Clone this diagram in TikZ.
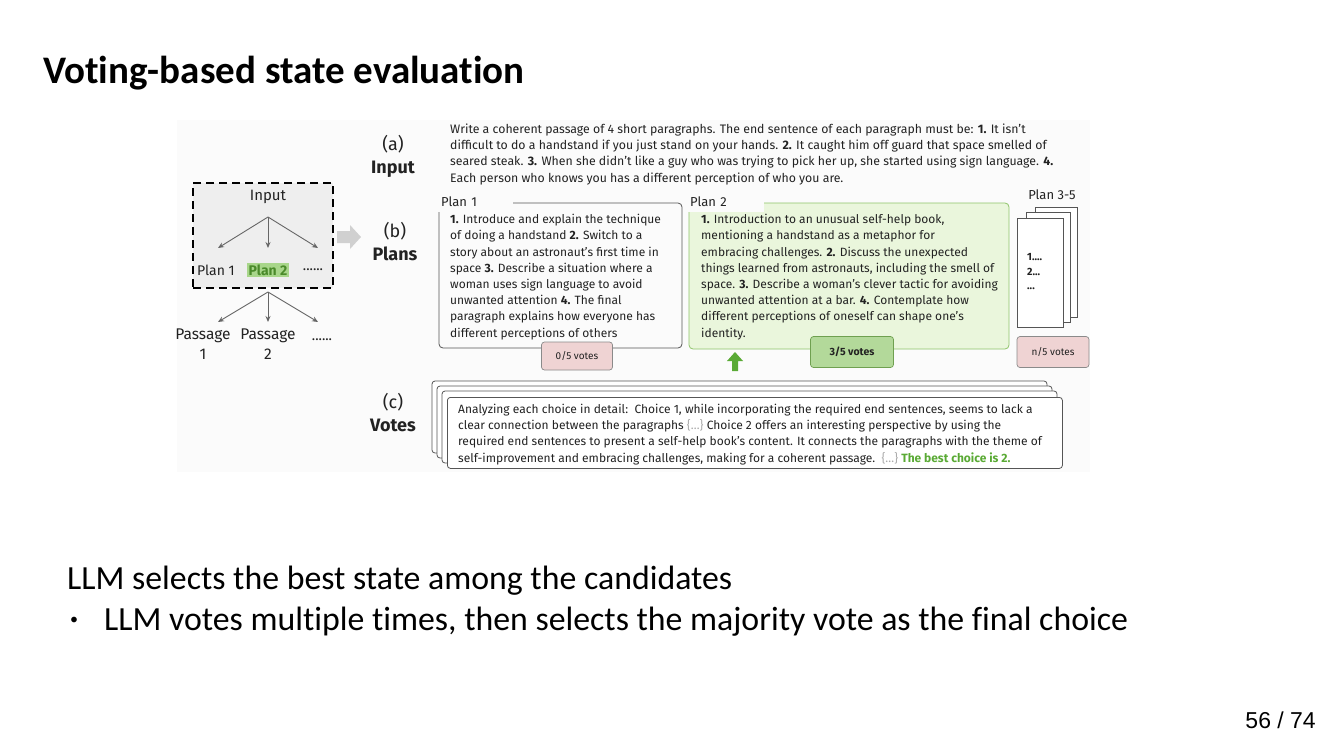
\documentclass[tikz,border=0pt]{standalone}
\usepackage{fontspec}
\setmainfont{Carlito}[Ligatures=NoCommon]
\newfontfamily\figfont{Fira Sans}
\newfontfamily\numfont{Liberation Sans}
\usetikzlibrary{arrows.meta}

\definecolor{figbg}{HTML}{FBFBFB}
\definecolor{treebg}{HTML}{EEEEEE}
\definecolor{treearrow}{HTML}{666666}
\definecolor{hlgreen}{HTML}{A8D68A}
\definecolor{hltext}{HTML}{4A8A2A}
\definecolor{plantwofill}{HTML}{EAF6DC}
\definecolor{plantwodraw}{HTML}{8FC46A}
\definecolor{votepink}{HTML}{EFD3D3}
\definecolor{voteedge}{HTML}{8A8A8A}
\definecolor{votegreen}{HTML}{B3D99A}
\definecolor{votegreenedge}{HTML}{6FA050}
\definecolor{bestgreen}{HTML}{5AAA35}
\definecolor{bracegray}{HTML}{AAAAAA}
\definecolor{boxedge}{HTML}{555555}
\definecolor{figtext}{HTML}{222222}
\definecolor{bigarrow}{HTML}{D0D0D0}

\newcommand{\figsize}{\fontsize{12}{16.2}\selectfont}
\newcommand{\gap}{{\color{bracegray}\{…\}}}

\begin{document}
\begin{tikzpicture}[x=1pt,y=-1pt,
  figlabel/.style={inner sep=0, text=figtext, font=\figfont\fontsize{13}{15}\selectfont},
  treelabel/.style={inner sep=1.5, text=figtext, font=\figfont\fontsize{14}{20}\selectfont},
  treeline/.style={draw=treearrow, line width=0.9pt, -{Stealth[length=6pt,width=5pt]}},
  paratext/.style={anchor=base west, inner sep=0, align=left, text=figtext, font=\figfont\figsize},
  planbox/.style={draw=boxedge, line width=0.8pt, rounded corners=4pt},
  cover/.style={fill=figbg, anchor=north west, inner xsep=4pt, inner ysep=0pt, minimum height=22pt, align=left, text=figtext, font=\figfont\fontsize{13}{15}\selectfont},
  votebox/.style={draw=voteedge, line width=0.7pt, rounded corners=3pt, text=figtext, font=\figfont\fontsize{10}{12}\selectfont},
  page/.style={draw=boxedge, fill=white, line width=0.8pt},
  stackbox/.style={draw=boxedge, fill=white, line width=0.8pt, rounded corners=3pt},
  sidelabel/.style={inner sep=0, align=center, text=figtext, font=\figfont\fontsize{18}{23}\selectfont}
]
\useasboundingbox (0,0) rectangle (1334,750);
\fill[white] (0,0) rectangle (1334,750);

% slide title
\node[anchor=base west, inner sep=0] (title) at (43,83)
  {\fontsize{39}{44}\selectfont\bfseries Voting-based state evaluation};

% figure backdrop
\fill[figbg] (177,120) rectangle (1090,472);

% ---------- left: the search tree ----------
\node[draw, fill=treebg, dash pattern=on 8pt off 5pt, line width=2.2pt,
      minimum width=140pt, minimum height=105pt, anchor=north west] (tree) at (192,182) {};
\node[treelabel, font=\figfont\fontsize{15}{20}\selectfont] (tin) at (268,197) {Input};
\node[treelabel] (p1) at (216,270) {Plan 1};
\node[treelabel, fill=hlgreen, text=hltext, font=\figfont\bfseries\fontsize{14}{20}\selectfont] (p2) at (268,270) {Plan 2};
\node[treelabel] (pd) at (313,270) {......};
\coordinate (fork1) at (268,217);
\coordinate (tip1) at (218,248);
\coordinate (tip2) at (268,248);
\coordinate (tip3) at (318,248);
\draw[treeline] (fork1) -- (tip1);
\draw[treeline] (fork1) -- (tip2);
\draw[treeline] (fork1) -- (tip3);

\node[treelabel, align=center, font=\figfont\fontsize{15.5}{20}\selectfont] (pa1) at (203,344) {Passage\\1};
\node[treelabel, align=center, font=\figfont\fontsize{15.5}{20}\selectfont] (pa2) at (268,344) {Passage\\2};
\node[treelabel] (pad) at (322,340) {......};
\coordinate (fork2) at (268,292);
\coordinate (tip4) at (218,322);
\coordinate (tip5) at (268,322);
\coordinate (tip6) at (318,322);
\draw[treeline] (fork2) -- (tip4);
\draw[treeline] (fork2) -- (tip5);
\draw[treeline] (fork2) -- (tip6);

% grey block arrow towards the worked example
\fill[bigarrow] (337,231) -- (350,231) -- (350,225) -- (361,237) -- (350,249) -- (350,243) -- (337,243) -- cycle;

% ---------- row labels ----------
\node[sidelabel] (la) at (393,156) {(a)\\\textbf{Input}};
\node[sidelabel] (lb) at (395,242) {(b)\\\textbf{Plans}};
\node[sidelabel] (lc) at (393,413) {(c)\\\textbf{Votes}};

% ---------- (a) input (anchored on the last baseline) ----------
\node[paratext, font=\figfont\fontsize{12.3}{16.2}\selectfont] (intext) at (450,182) {Write a coherent passage of 4 short paragraphs. The end sentence of each paragraph must be: \textbf{1.} It isn’t\\
difficult to do a handstand if you just stand on your hands. \textbf{2.} It caught him off guard that space smelled of\\
seared steak. \textbf{3.} When she didn’t like a guy who was trying to pick her up, she started using sign language. \textbf{4.}\\
Each person who knows you has a different perception of who you are.};

% ---------- (b) plans ----------
\draw[planbox] (439,203) rectangle (682,348);
\node[cover, text width=68pt] (l1) at (437,190) {Plan 1};
\node[paratext] (t1) at (450,337) {\textbf{1.} Introduce and explain the technique\\
of doing a handstand \textbf{2.} Switch to a\\
story about an astronaut’s first time in\\
space \textbf{3.} Describe a situation where a\\
woman uses sign language to avoid\\
unwanted attention \textbf{4.} The final\\
paragraph explains how everyone has\\
different perceptions of others};

\draw[planbox, draw=plantwodraw, fill=plantwofill] (689,203) rectangle (1009,349);
\node[cover, text width=70pt] (l2) at (686,190) {Plan 2};
\node[paratext] (t2) at (701,337) {\textbf{1.} Introduction to an unusual self-help book,\\
mentioning a handstand as a metaphor for\\
embracing challenges. \textbf{2.} Discuss the unexpected\\
things learned from astronauts, including the smell of\\
space. \textbf{3.} Describe a woman’s clever tactic for avoiding\\
unwanted attention at a bar. \textbf{4.} Contemplate how\\
different perceptions of oneself can shape one’s\\
identity.};

% remaining plans as a stack of pages
\node[figlabel] (l3) at (1052,195) {Plan 3-5};
\draw[page] (1035,207) rectangle (1077,317);
\draw[page] (1026,212) rectangle (1070,322);
\node[page, anchor=north west, minimum width=46pt, minimum height=109pt, inner sep=0] (front) at (1017,218) {};
\node[anchor=west, inner sep=0, align=left, text=figtext, font=\figfont\bfseries\fontsize{10.5}{14.5}\selectfont] (t3) at (1027,272) {1....\\2...\\...};

% vote tallies
\node[votebox, fill=votepink, minimum width=71pt, minimum height=28pt] (v1) at (577,356) {0/5 votes};
\node[votebox, fill=votegreen, draw=votegreenedge, minimum width=83pt, minimum height=31pt, font=\figfont\bfseries\fontsize{10.5}{12}\selectfont] (v2) at (852,352) {3/5 votes};
\node[votebox, fill=votepink, minimum width=72pt, minimum height=31pt] (v3) at (1053,352) {n/5 votes};

% winner marker
\fill[bestgreen] (732,371) -- (738,371) -- (738,361) -- (743,361) -- (735,352) -- (727,361) -- (732,361) -- cycle;

% ---------- (c) votes ----------
\draw[stackbox] (432,381) rectangle (1047,453);
\draw[stackbox] (437,386) rectangle (1052,458);
\draw[stackbox] (442,391) rectangle (1057,463);
\node[stackbox, anchor=north west, minimum width=615pt, minimum height=71pt, inner sep=0] (vote) at (447,397) {};
\node[paratext] (vt) at (458,462) {Analyzing each choice in detail:\ \ Choice 1, while incorporating the required end sentences, seems to lack a\\
clear connection between the paragraphs \gap{} Choice 2 offers an interesting perspective by using the\\
required end sentences to present a self-help book’s content. It connects the paragraphs with the theme of\\
self-improvement and embracing challenges, making for a coherent passage.\ \ \gap{} {\color{bestgreen}\bfseries The best choice is 2.}};

% ---------- slide text ----------
\node[anchor=base west, inner sep=0] (line1) at (67,589)
  {\fontsize{33.8}{38}\selectfont LLM selects the best state among the candidates};
\node[inner sep=0] (bullet) at (74,621) {\fontsize{16}{16}\selectfont •};
\node[anchor=base west, inner sep=0] (line2) at (104,630)
  {\fontsize{33.8}{38}\selectfont LLM votes multiple times, then selects the majority vote as the final choice};

\node[anchor=base east, inner sep=0] (pageno) at (1316,728)
  {\numfont\fontsize{23}{26}\selectfont 56 / 74};
\end{tikzpicture}
\end{document}
